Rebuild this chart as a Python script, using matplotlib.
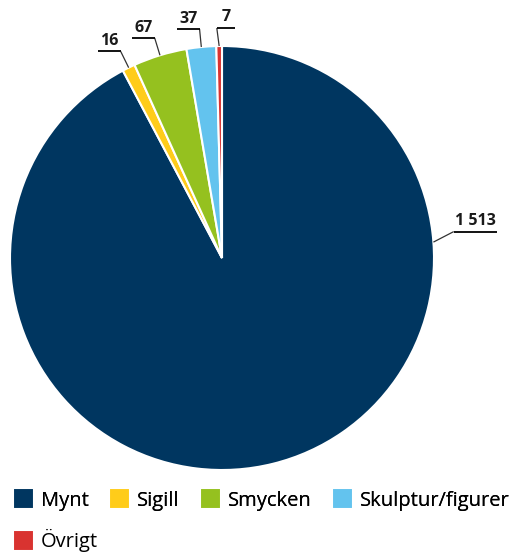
import numpy as np
import matplotlib.pyplot as plt

plt.switch_backend('agg')
plt.rcParams['font.family'] = ['Open Sans', 'DejaVu Sans']

# Data
categories = ['Mynt', 'Sigill', 'Smycken', 'Skulptur/figurer', 'Övrigt']
values = [1513, 16, 67, 37, 7]
value_labels = ['1 513', '16', '67', '37', '7']
colors = ['#003660', '#FFCC1A', '#95C11F', '#63C3EE', '#D93330']

# label placement: edge angle override (None = wedge middle), elbow angle tilt
label_angle = [4.3, None, None, None, None]
elbow_tilt = [2.2, 0, 0, 0, 0]

W, H = 516, 553
fig = plt.figure(figsize=(W / 100, H / 100), dpi=100)
ax = fig.add_axes([0, 0, 1, 1])

wedges, _ = ax.pie(values, colors=colors, startangle=90, counterclock=False,
                   radius=1.0, wedgeprops=dict(edgecolor='white', linewidth=1.5))

# pie center at (222, 258) px, radius 212 px
scale = 212.0
cx, cy = 222.0, 258.0
ax.set_xlim(-cx / scale, (W - cx) / scale)
ax.set_ylim(-(H - cy) / scale, cy / scale)
ax.set_aspect('auto')
ax.axis('off')

for i, w in enumerate(wedges):
    mid = (w.theta1 + w.theta2) / 2
    a = label_angle[i] if label_angle[i] is not None else mid
    r0 = np.deg2rad(a)
    r1 = np.deg2rad(a + elbow_tilt[i])
    p0 = (np.cos(r0), np.sin(r0))
    rad = 1.1 if i == 0 else 1.085
    p1 = (rad * np.cos(r1), rad * np.sin(r1))
    direction = -1 if p1[0] < -0.05 else 1
    if i == 0:
        seg = 0.205
    elif i == 4:
        seg = 0.075
    else:
        seg = 0.105
    p2 = (p1[0] + direction * seg, p1[1])
    if i == 4:
        p1 = (p1[0] - 0.01, p1[1])
    ax.plot([p0[0], p1[0]], [p0[1], p1[1]], color='#333333', lw=0.9,
            solid_capstyle='butt')
    ax.plot([p1[0], p2[0]], [p1[1], p2[1]], color='black', lw=1.3,
            solid_capstyle='butt')
    ax.text((p1[0] + p2[0]) / 2, p1[1] + 0.012, value_labels[i],
            ha='center', va='bottom', fontsize=11.5, fontweight='bold',
            color='#1a1a1a')

leg_kw = dict(loc='upper left', frameon=False, fontsize=14.5,
              handlelength=1.05, handleheight=1.23, handletextpad=0.35,
              borderaxespad=0, borderpad=0)
leg1 = fig.legend(wedges[:4], categories[:4], bbox_to_anchor=(0.025, 0.117),
                  ncol=4, columnspacing=1.0, **leg_kw)
fig.add_artist(leg1)
fig.legend(wedges[4:], categories[4:], bbox_to_anchor=(0.025, 0.043),
           ncol=1, **leg_kw)

fig.savefig('out.png', dpi=100)
